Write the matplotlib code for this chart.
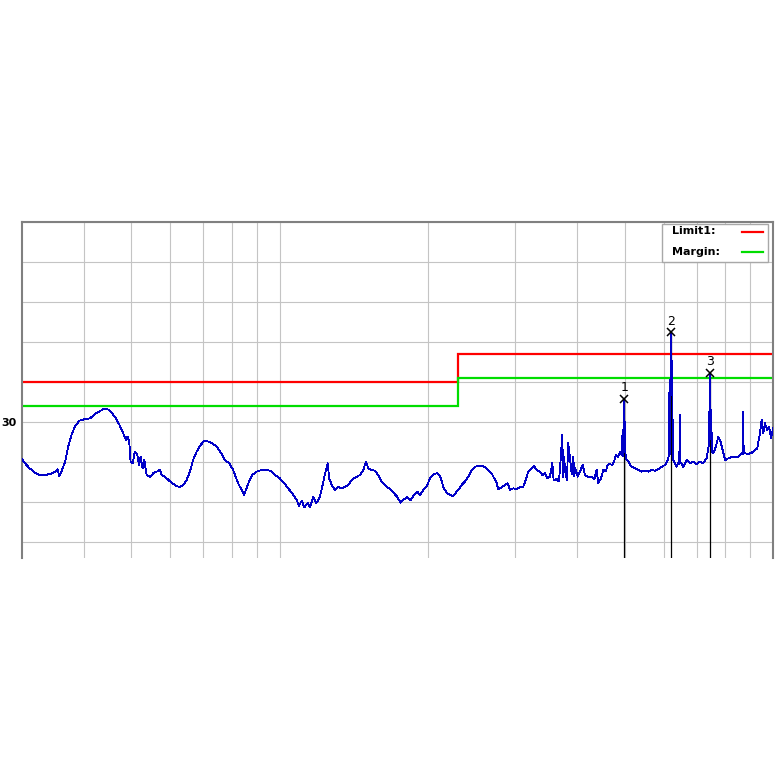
'''
Radiated emission scan, 30 MHz - 1 GHz, with limit, margin and peak markers.
'''
import matplotlib
matplotlib.use('Agg')
import matplotlib.pyplot as plt
from matplotlib.patches import Rectangle
from matplotlib.lines import Line2D
from matplotlib.ticker import NullLocator

# measured trace (MHz, dB)
freq_mhz = [
    30.0, 30.4, 31.1, 31.9, 32.6, 33.4, 34.2, 35.0, 35.4, 35.7, 36.1, 36.7, 37.2, 37.8, 38.4, 39.2,
    40.1, 41.2, 42.2, 43.2, 44.2, 45.1, 46.3, 47.3, 48.1, 48.8, 49.1, 49.5,
    49.8, 50.3, 50.8, 51.4, 51.8, 52.2, 52.7, 53.1, 53.7, 54.5, 55.4, 56.3, 57.1, 57.6, 58.5, 59.7,
    60.3, 61.8, 62.7, 63.7, 64.7, 65.7, 66.7, 67.8, 68.9,
    70.1, 71.6, 72.9, 74.5, 76.0, 77.4, 78.9,
    80.4, 81.4, 82.6, 83.7, 84.6, 85.6, 86.6, 87.9,
    89.7, 91.9, 94.0, 95.9, 97.8,
    100.0, 102.4, 104.3, 106.5, 108.2, 109.3, 110.7, 112.1, 113.9, 115.1, 116.9,
    118.4, 120.2, 121.5, 122.9, 124.0, 125.0, 125.9, 127.4, 129.3, 131.3, 133.4, 135.5, 137.6,
    139.8, 142.7, 145.3, 147.6, 149.5, 151.1, 153.5, 155.9, 158.3, 160.8,
    164.1, 167.2, 170.3, 173.0, 175.7, 178.5, 181.2, 184.1, 187.0, 189.9, 192.3, 195.3, 198.4,
    201.5, 205.3, 208.5, 211.8, 214.4, 217.8, 221.2, 224.7, 228.3,
    231.0, 233.6, 237.3, 240.9, 244.8, 248.6, 252.5, 256.5, 260.5, 264.5, 268.8, 272.1, 275.1, 277.2,
    281.7, 286.0, 289.7, 292.8, 297.4, 302.1, 306.8, 311.6, 315.1, 318.9, 324.0, 328.0, 331.7,
    336.8, 340.5, 344.8, 349.2, 352.9,
    356.8, 359.1, 364.2, 368.1, 371.0, 373.8, 375.5, 376.8, 379.8, 382.1, 384.4, 387.5, 390.6,
    393.5, 395.5,
    397.2, 401.7, 406.0, 411.2, 415.6, 422.1, 428.8, 434.1, 439.0, 442.2, 447.9,
    452.7, 457.8, 462.1, 467.0, 472.1, 476.5, 480.3, 485.5, 489.4, 493.3, 495.6, 496.5, 497.5,
    499.0, 500.5, 501.5, 503.3, 508.7, 516.9, 524.9, 533.0, 541.6, 550.0, 558.5, 567.4, 576.3,
    585.2, 594.6,
    603.6, 610.1, 614.2, 617.0, 618.5, 619.8, 621.7, 623.5, 625.0, 626.5, 628.0, 637.6, 642.3,
    645.5, 647.4, 649.3, 651.4, 657.5, 668.0, 678.4, 688.9,
    700.0, 710.8, 721.9, 733.5, 740.3, 742.0, 743.5, 745.9, 747.5, 749.5, 752.5, 756.4, 766.0,
    774.3, 783.0, 790.3,
    799.7, 811.3, 824.2, 837.1, 850.1, 863.7, 868.5, 870.2, 872.0, 875.9, 890.7,
    905.1, 919.1, 929.1, 940.9, 948.3, 955.4, 963.1, 973.4, 982.6, 990.5, 1000.0,
]
level_db = [
    20.7, 19.7, 18.4, 17.3, 16.75, 16.75, 17.0, 17.6, 18.2, 16.5, 17.8, 20.1, 23.8, 26.75, 28.8, 30.3,
    30.7, 30.9, 32.0, 32.75, 33.4, 33.0, 31.3, 29.25, 27.2, 25.5, 26.3, 25.1,
    20.1, 19.7, 22.6, 21.75, 19.25, 21.3, 18.4, 20.5, 16.75, 16.3, 17.2, 17.6, 18.0, 16.75, 16.3, 15.3,
    14.8, 14.0, 13.7, 14.25, 15.5, 17.6, 20.5, 22.6, 24.0,
    25.3, 25.1, 24.7, 23.8, 22.2, 20.5, 19.7,
    18.0, 16.2, 14.25, 13.0, 11.75, 13.4, 15.1, 16.75,
    17.6, 18.0, 18.0, 17.8, 16.75,
    15.9, 14.5, 13.2, 11.75, 10.5, 9.0, 10.3, 8.7, 9.7, 8.7, 11.3,
    9.7, 10.9, 13.0, 15.9, 18.0, 19.7, 15.9, 14.25, 13.0, 13.8, 13.4, 13.8, 14.25,
    15.5, 16.2, 16.75, 18.0, 20.1, 18.4, 18.0, 17.8, 16.75, 15.1,
    14.0, 13.2, 12.2, 11.3, 9.8, 10.7, 11.2, 10.5, 11.75, 12.6, 11.75, 13.0, 13.8,
    15.9, 17.0, 17.2, 16.2, 13.8, 12.3, 11.75, 11.5, 12.6,
    13.2, 14.25, 15.1, 16.3, 18.0, 18.8, 19.0, 19.0, 18.8, 18.0, 17.2, 15.9, 14.8, 13.2,
    13.7, 14.25, 14.7, 13.0, 13.4, 13.2, 13.7, 13.8, 15.5, 17.6, 18.4, 19.0, 18.0,
    17.6, 16.75, 17.2, 15.9, 16.3,
    19.7, 15.5, 15.7, 15.1, 20.5, 26.75, 16.3, 21.3, 16.8, 15.5, 24.7, 21.0, 17.0,
    21.3, 16.5,
    18.5, 16.3, 17.6, 19.25, 16.75, 16.2, 16.3, 15.7, 18.0, 14.7, 15.9,
    18.0, 17.6, 19.25, 19.5, 19.25, 20.3, 21.75, 21.3, 22.6, 21.75, 28.0, 21.5, 28.2,
    35.7, 27.6, 23.0, 20.9, 20.1, 18.8, 18.4, 18.0, 17.6, 17.8, 17.6, 18.0, 17.8,
    18.2, 18.8,
    19.25, 20.1, 21.3, 40.5, 22.0, 40.7, 52.4, 40.9, 39.5, 21.0, 20.5, 18.8, 19.7,
    19.5, 31.75, 19.7, 19.7, 18.8, 20.5, 19.7, 20.1,
    19.5, 20.1, 19.7, 20.9, 23.8, 32.6, 24.0, 42.2, 31.0, 30.5, 22.5, 22.2, 23.8,
    26.3, 25.1, 23.0,
    20.5, 20.9, 21.2, 21.3, 21.2, 22.2, 22.0, 32.6, 22.2, 22.2, 22.0,
    22.3, 23.0, 23.4, 27.2, 30.5, 27.2, 29.7, 28.0, 28.8, 25.9, 28.4,
]

# limit and margin (step at 230 MHz)
limit_edges = [30, 230, 1000]
limit1_db = [40, 47]
margin_db = [34, 41]

# peak markers
marker_freq = [499.0, 621.7, 745.9]
marker_db = [35.7, 52.4, 42.2]
marker_labels = ['1', '2', '3']

# grid positions
x_grid = [40, 50, 60, 70, 80, 90, 100, 200, 300, 400, 500, 600, 700, 800, 900]
y_grid = [0, 10, 20, 30, 40, 50, 60, 70, 80]

W = 780


def px(x, y):
    '''pixel position -> figure fraction'''
    return x / W, 1 - y / W


def main():
    fig = plt.figure(figsize=(7.8, 7.8), dpi=100)
    l, b = px(22, 558)
    ax = fig.add_axes([l, b, 751 / W, 336 / W])

    ax.set_xscale('log')
    ax.set_xlim(30, 1000)
    ax.set_ylim(-4, 80)

    ax.set_xticks(x_grid)
    ax.set_xticklabels([''] * len(x_grid))
    ax.xaxis.set_minor_locator(NullLocator())
    ax.set_yticks(y_grid)
    ax.set_yticklabels(['30' if v == 30 else '' for v in y_grid],
                       fontsize=8, fontweight='bold')
    ax.tick_params(length=0, pad=4)
    ax.grid(True, color='#c4c4c4', lw=0.8, zorder=0)
    ax.set_axisbelow(True)

    for side in ['left', 'top', 'right']:
        ax.spines[side].set_color('#808080')
        ax.spines[side].set_linewidth(1.5)
    ax.spines['bottom'].set_visible(False)

    # limit lines
    ax.stairs(limit1_db, limit_edges, color='#ff0000', lw=1.6, baseline=None, zorder=2)
    ax.stairs(margin_db, limit_edges, color='#00dd00', lw=1.6, baseline=None, zorder=2)

    # marker lines from bottom up
    ax.vlines(marker_freq, -4, marker_db, color='black', lw=0.9, zorder=3)

    # trace, drawn without smoothing like the analyser screen
    ax.plot(freq_mhz, level_db, color='#0000c8', lw=0.6, zorder=4, antialiased=False)

    # markers
    ax.plot(marker_freq, marker_db, 'x', color='black', ms=6, mew=1.1, zorder=5)
    for f, v, s in zip(marker_freq, marker_db, marker_labels):
        ax.annotate(s, (f, v), xytext=(0, 3.5), textcoords='offset points',
                    ha='center', va='bottom', fontsize=9, zorder=5)

    # legend box
    x0, y0 = px(662, 262)
    fig.add_artist(Rectangle((x0, y0), 106 / W, 38 / W, transform=fig.transFigure,
                             facecolor='white', edgecolor='#a8a8a8', lw=1, zorder=6))
    for label, color, yy in [('Limit1:', '#ff0000', 231.5), ('Margin:', '#00dd00', 252)]:
        tx, ty = px(672, yy)
        fig.text(tx, ty, label, fontsize=8, fontweight='bold', va='center', zorder=7)
        lx0, ly = px(742, yy)
        lx1, _ = px(763, yy)
        fig.add_artist(Line2D([lx0, lx1], [ly, ly], color=color, lw=1.6,
                              transform=fig.transFigure, zorder=7))

    fig.savefig('out.png', dpi=100)


if __name__ == '__main__':
    main()
